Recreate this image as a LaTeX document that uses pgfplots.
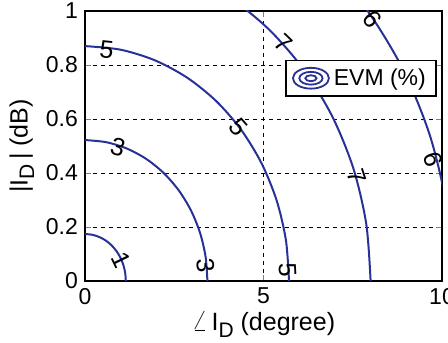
\documentclass[border=0pt]{standalone}
\usepackage{pgfplots}
\pgfplotsset{compat=1.18}
\usepackage{fontspec}
\setmainfont{Liberation Sans}
\definecolor{cblue}{RGB}{40,50,150}
\newcommand{\subD}{\raisebox{-0.5ex}{\fontsize{10.5}{12}\selectfont D}}
\begin{document}
\begin{tikzpicture}
\begin{axis}[
  scale only axis,
  width=178.5pt, height=135pt,
  xmin=0, xmax=10, ymin=0, ymax=1,
  xtick={0,5,10}, ytick={0,0.2,0.4,0.6,0.8,1},
  yticklabels={0,0.2,0.4,0.6,0.8,1},
  /pgf/number format/assume math mode=true,
  tick label style={font=\fontsize{11.5}{13}\selectfont},
  tick align=inside, xtick pos=both, ytick pos=both,
  major tick length=3pt,
  grid=major,
  major grid style={black, line width=0.4pt, dash pattern=on 2pt off 2pt},
  axis line style={black, line width=0.6pt},
  xlabel={{\fontsize{14}{14}\selectfont$\angle$}\,I\subD{} (degree)},
  ylabel={|I\subD\,| (dB)},
  label style={font=\fontsize{12.5}{14}\selectfont},
  xlabel style={yshift=3pt},
  ylabel style={yshift=-1pt},
  legend style={at={(0.985,0.82)}, anchor=north east, draw=black, line width=0.8pt,
    font=\fontsize{11.5}{13}\selectfont, inner xsep=3pt, inner ysep=2pt},
  legend cell align=left,
  every axis plot/.append style={cblue, line width=1pt, smooth},
  clip=true,
]
\addlegendimage{legend image code/.code={
  \draw[cblue, line width=0.9pt] (0.35cm,0) ellipse (9pt and 5.2pt);
  \draw[cblue, line width=0.9pt] (0.35cm,0) ellipse (5.8pt and 3.2pt);
  \draw[cblue, line width=0.9pt] (0.35cm,0) ellipse (2.8pt and 1.5pt);
}}
\addlegendentry{EVM (\%)}
% contour 1
\addplot[forget plot] coordinates {(1.143,0) (1.126,0.0302) (1.074,0.0595) (0.990,0.087) (0.876,0.1118) (0.735,0.1333) (0.572,0.1507) (0.391,0.1635) (0.198,0.1714) (0,0.174)};
% contour 3
\addplot[forget plot] coordinates {(3.429,0) (3.377,0.0906) (3.222,0.1785) (2.970,0.261) (2.627,0.3355) (2.204,0.3999) (1.715,0.4521) (1.173,0.4905) (0.595,0.5141) (0,0.522)};
% contour 5
\addplot[forget plot] coordinates {(5.715,0) (5.628,0.1511) (5.370,0.2976) (4.949,0.435) (4.378,0.5592) (3.674,0.6665) (2.858,0.7534) (1.955,0.8175) (0.992,0.8568) (0,0.87)};
% contour 7
\addplot[forget plot] coordinates {(8.0,0) (7.878,0.2115) (7.518,0.4166) (6.928,0.609) (6.128,0.7829) (5.142,0.9330) (4.0,1.0548) (2.736,1.1446) (1.389,1.1995) (0,1.218)};
% contour 9
\addplot[forget plot] coordinates {(10.29,0) (10.133,0.2719) (9.669,0.5356) (8.911,0.783) (7.882,1.0066) (6.614,1.1996) (5.145,1.3562)};
% contour labels
\begin{scope}[every node/.style={black, font=\fontsize{12.5}{14}\selectfont, inner sep=0pt}]
\node[rotate=-64] at (axis cs:1.03,0.078) {1};
\node[rotate=-16] at (axis cs:0.92,0.497) {3};
\node[rotate=-84] at (axis cs:3.38,0.059) {3};
\node[rotate=-6] at (axis cs:0.61,0.858) {5};
\node[rotate=-49] at (axis cs:4.29,0.571) {5};
\node[rotate=-87] at (axis cs:5.67,0.041) {5};
\node[rotate=-44] at (axis cs:5.55,0.88) {7};
\node[rotate=-72] at (axis cs:7.61,0.386) {7};
\node[rotate=128] at (axis cs:8.06,0.97) {9};
\node[rotate=108] at (axis cs:9.76,0.45) {9};
\end{scope}
\end{axis}
\pgfresetboundingbox
\path[use as bounding box] ([xshift=-42.5pt,yshift=-30.5pt]current axis.south west) rectangle ([xshift=3pt,yshift=5.5pt]current axis.north east);
\end{tikzpicture}
\end{document}
